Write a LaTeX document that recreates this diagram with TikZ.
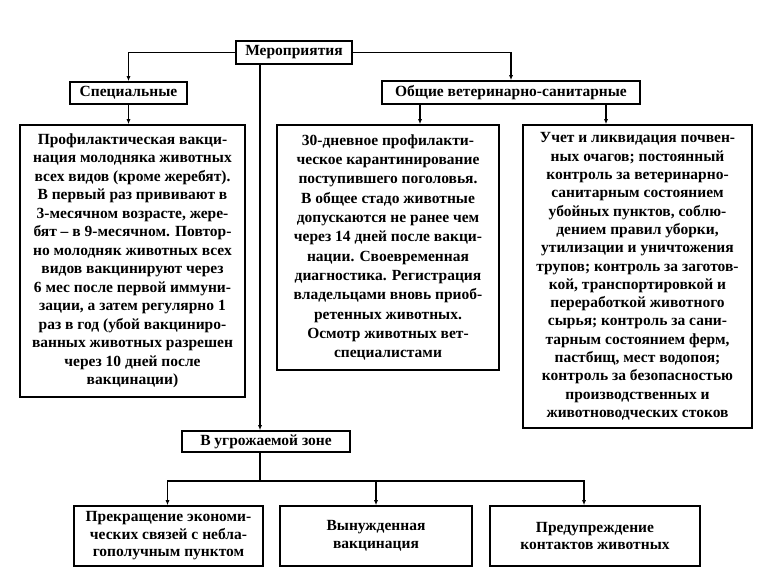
\documentclass[tikz,border=0pt]{standalone}
\usepackage{fontspec}
\setmainfont{Liberation Serif}
\usetikzlibrary{arrows.meta}

\begin{document}
\begin{tikzpicture}[x=1pt,y=-1pt,
  box/.style={draw,line width=1.6pt,inner sep=0pt,align=center,
    font=\fontsize{15.5}{18.5}\selectfont\bfseries},
  arr/.style={line width=1.6pt,-{Latex[length=5pt,width=4pt]}},
  ln/.style={line width=1.6pt}]
\useasboundingbox (0,0) rectangle (774,584);
%% верхний уровень
\node[box,minimum width=116,minimum height=23] (top) at (294,52.5) {Мероприятия};
\node[box,minimum width=117,minimum height=22] (spec) at (128.5,93) {Специальные};
\node[box,minimum width=258,minimum height=23] (common) at (511,92.5) {Общие ветеринарно-санитарные};
%% средний уровень
\node[box,minimum width=225,minimum height=272] (left) at (132.5,261) {Профилактическая вакци-\\нация молодняка животных\\всех видов (кроме жеребят).\\В первый раз прививают в\\3-месячном возрасте, жере-\\бят -- в 9-месячном. Повтор-\\но молодняк животных всех\\видов вакцинируют через\\6 мес после первой иммуни-\\зации, а затем регулярно 1\\раз в год (убой вакциниро-\\ванных животных разрешен\\через 10 дней после\\вакцинации)};
\node[box,minimum width=222,minimum height=245,
  font=\fontsize{15.5}{19.3}\selectfont\bfseries] (mid) at (388,247.5) {30-дневное профилакти-\\ческое карантинирование\\поступившего поголовья.\\В общее стадо животные\\допускаются не ранее чем\\через 14 дней после вакци-\\нации. Своевременная\\диагностика. Регистрация\\владельцами вновь приоб-\\ретенных животных.\\Осмотр животных вет-\\специалистами};
\node[box,minimum width=229,minimum height=303,
  font=\fontsize{15.5}{18.3}\selectfont\bfseries] (right) at (637.5,276.5) {Учет и ликвидация почвен-\\ных очагов; постоянный\\контроль за ветеринарно-\\санитарным состоянием\\убойных пунктов, соблю-\\дением правил уборки,\\утилизации и уничтожения\\трупов; контроль за заготов-\\кой, транспортировкой и\\переработкой животного\\сырья; контроль за сани-\\тарным состоянием ферм,\\пастбищ, мест водопоя;\\контроль за безопасностью\\производственных и\\животноводческих стоков};
%% угрожаемая зона
\node[box,minimum width=168,minimum height=21] (zone) at (266,441.5) {В угрожаемой зоне};
\node[box,minimum width=189,minimum height=60,
  font=\fontsize{15.5}{17.5}\selectfont\bfseries] (b1) at (168.5,536) {Прекращение экономи-\\ческих связей с небла-\\гополучным пунктом};
\node[box,minimum width=192,minimum height=60,
  font=\fontsize{15.5}{17.5}\selectfont\bfseries] (b2) at (376,536) {Вынужденная\\вакцинация};
\node[box,minimum width=210,minimum height=60,
  font=\fontsize{15.5}{17.5}\selectfont\bfseries] (b3) at (595,536) {Предупреждение\\контактов животных};
%% связи
\coordinate (trunk) at (260,64);
\coordinate (bus) at (260,481);
\draw[arr] (top.west) -| (spec.north);
\draw[arr] (top.east) -| (common.north);
\draw[arr] (trunk) -- (trunk |- zone.north);
\draw[arr] (spec.south) -- (spec.south |- left.north);
\draw[arr] ([xshift=-91pt]common.south) -- ([xshift=-91pt]common.south |- mid.north);
\draw[arr] ([xshift=95pt]common.south) -- ([xshift=95pt]common.south |- right.north);
\draw[ln] (zone.south -| bus) -- (bus);
\draw[arr] (bus) -| ([xshift=-1pt]b1.north);
\draw[arr] (bus) -| (b2.north);
\draw[arr] (bus) -| ([xshift=-11pt]b3.north);
\end{tikzpicture}
\end{document}
